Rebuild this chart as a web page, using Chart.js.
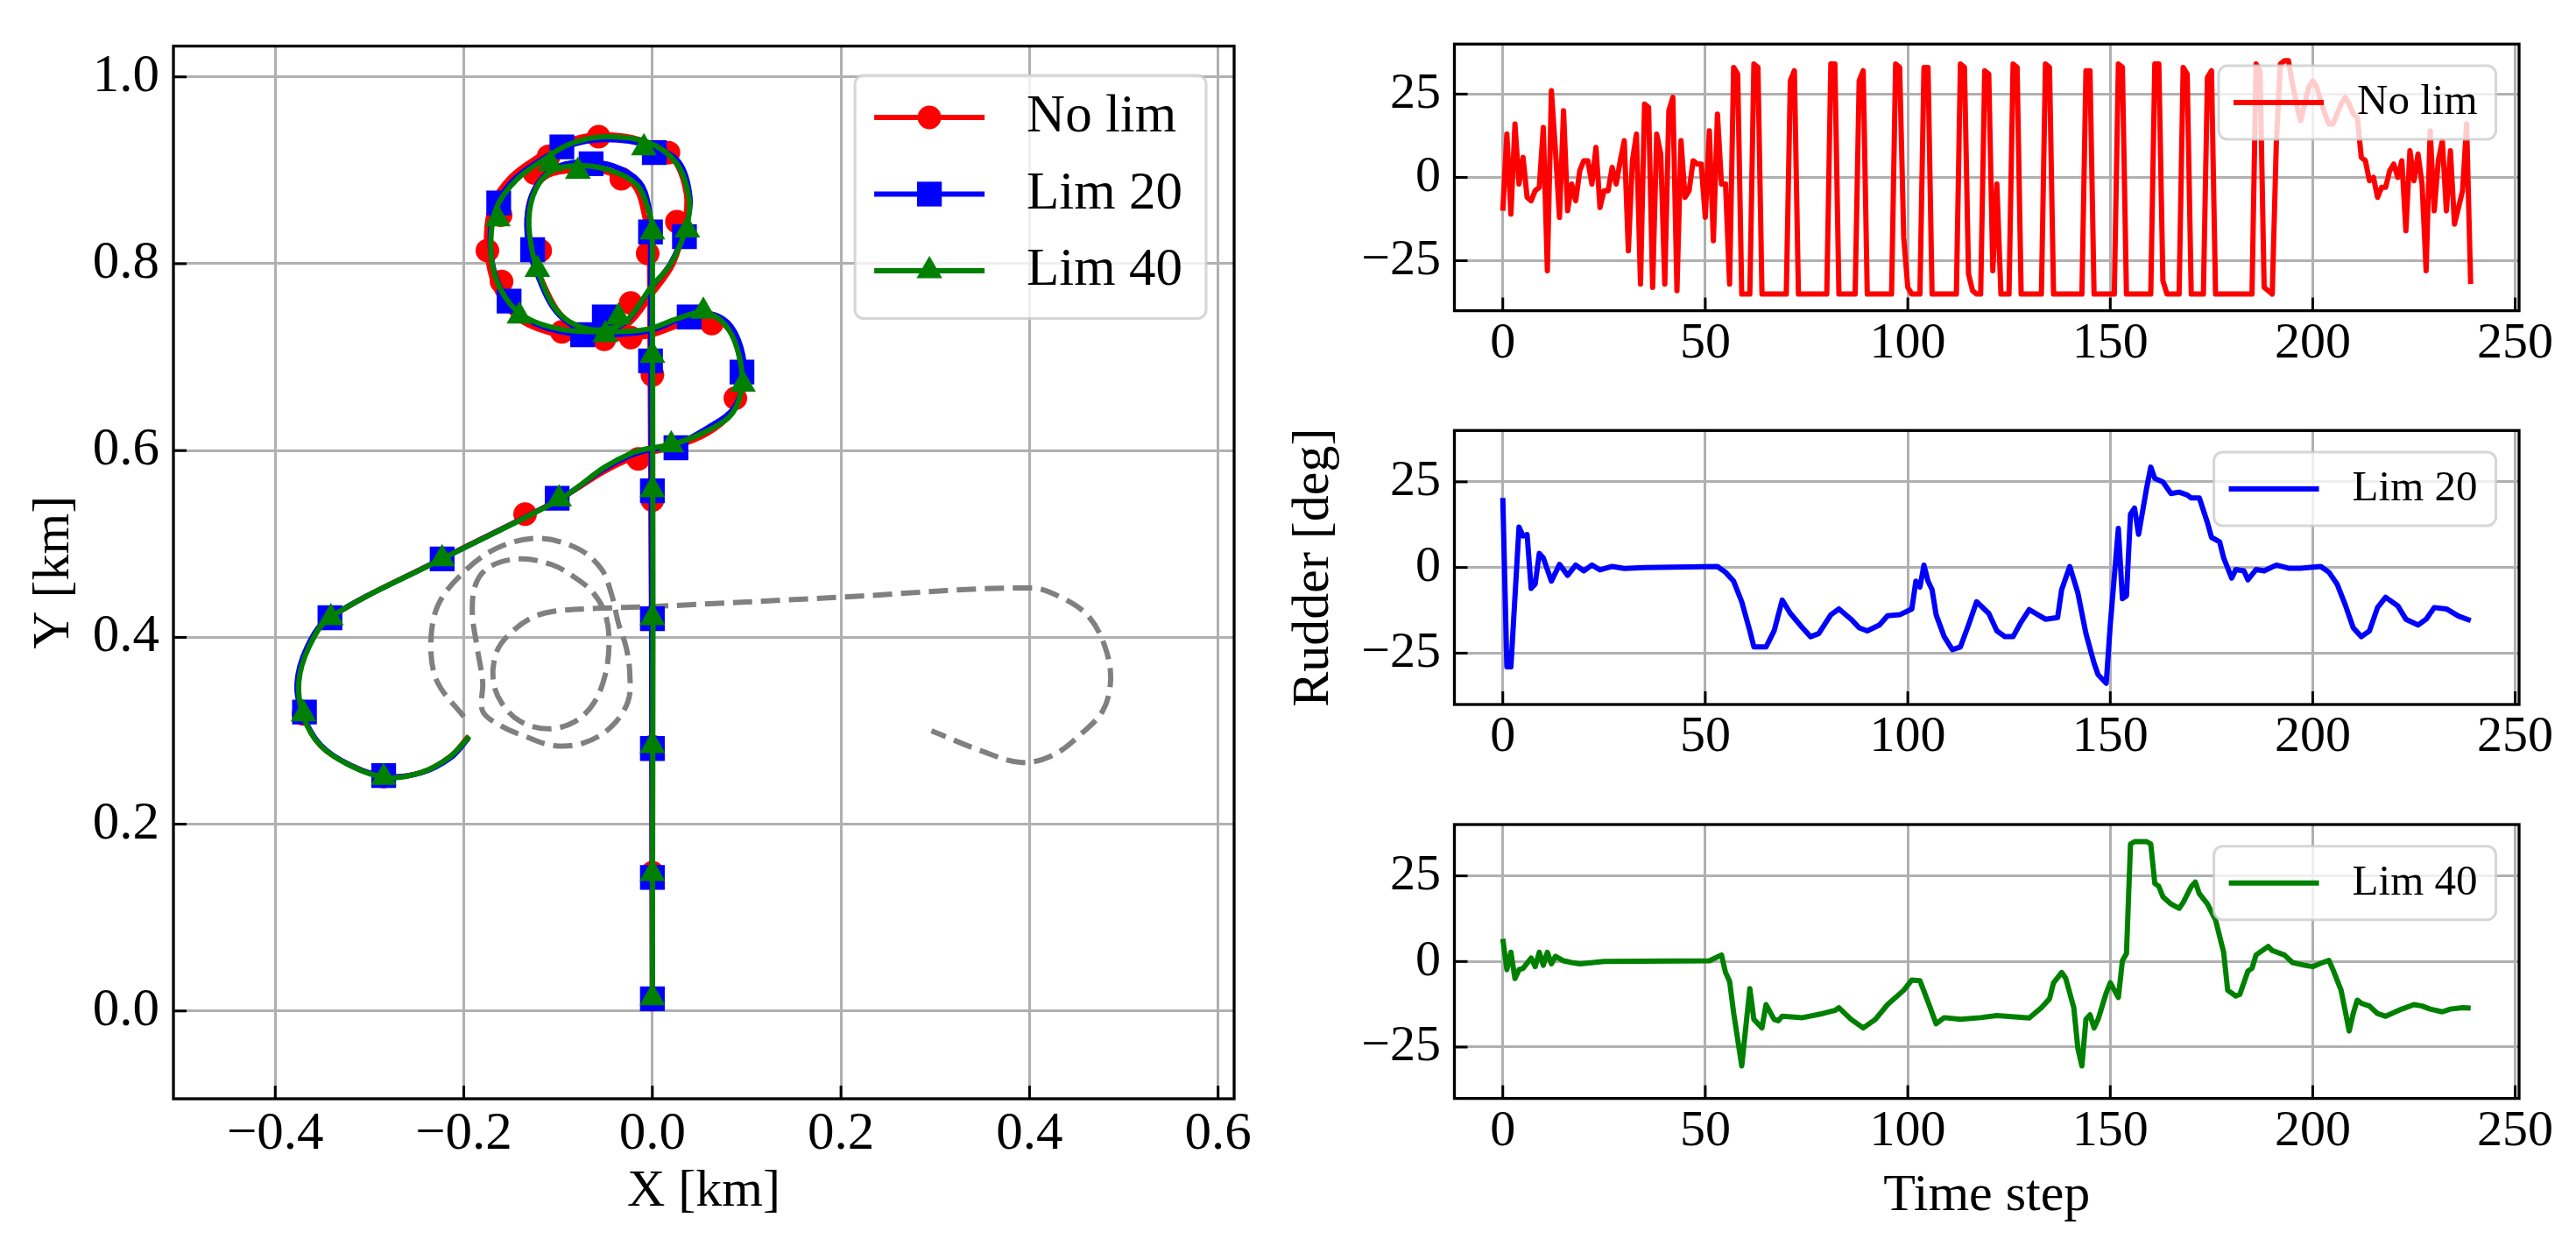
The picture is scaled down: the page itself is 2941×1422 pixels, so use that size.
<!DOCTYPE html>
<html>
<head>
<meta charset="utf-8">
<title>Trajectory and rudder</title>
<script src="https://cdn.jsdelivr.net/npm/chart.js@4.4.1/dist/chart.umd.min.js"></script>
<style>
    html, body { margin: 0; padding: 0; background: #ffffff; }
    #wrap { position: relative; width: 2941px; height: 1422px; overflow: hidden; }
    canvas { position: absolute; }
</style>
</head>
<body>
<div id="wrap">
    <canvas id="trackChart" width="1470" height="1422" style="left:0px;top:0px"></canvas>
    <canvas id="rudderNoLim" width="1471" height="440" style="left:1470px;top:0px"></canvas>
    <canvas id="rudderLim20" width="1471" height="450" style="left:1470px;top:440px"></canvas>
    <canvas id="rudderLim40" width="1471" height="532" style="left:1470px;top:890px"></canvas>
</div>
<script>
        // tick labels
        const kmTicksX = [-0.4, -0.2, 0.0, 0.2, 0.4, 0.6];
        const kmTicksY = [0.0, 0.2, 0.4, 0.6, 0.8, 1.0];
        const timeTicks = [0, 50, 100, 150, 200, 250];
        const rudderTicks = [-25, 0, 25];

        // trajectories (km)
        const noLimPathX = [0, -0.003, -0.008, -0.020, -0.048, -0.082, -0.110, -0.126, -0.133, -0.128, -0.117, -0.102, -0.085, -0.058, -0.026, 0.000, 0.022, 0.034, 0.036, 0.022, -0.010, -0.057, -0.094, -0.122, -0.150, -0.170, -0.176, -0.172, -0.160, -0.138, -0.100, -0.052, -0.008, 0.025, 0.055, 0.078, 0.091, 0.094, 0.084, 0.058, 0.024, -0.006, -0.024, -0.052, -0.100, -0.224, -0.342, -0.365, -0.376, -0.370, -0.352, -0.320, -0.283, -0.246, -0.215, -0.195];
        const noLimPathY = [0.012, 0.808, 0.850, 0.884, 0.898, 0.900, 0.895, 0.878, 0.848, 0.812, 0.782, 0.752, 0.735, 0.724, 0.735, 0.768, 0.800, 0.842, 0.875, 0.912, 0.932, 0.938, 0.930, 0.914, 0.893, 0.864, 0.830, 0.792, 0.762, 0.738, 0.724, 0.720, 0.722, 0.733, 0.742, 0.733, 0.706, 0.668, 0.640, 0.618, 0.604, 0.597, 0.591, 0.577, 0.547, 0.484, 0.421, 0.390, 0.352, 0.316, 0.284, 0.263, 0.251, 0.255, 0.272, 0.294];
        const noLimMarkX = [0, 0, 0, 0, 0, 0, -0.005, -0.033, -0.110, -0.125, -0.119, -0.023, 0.026, 0.017, -0.057, -0.161, -0.175, -0.160, -0.096, -0.051, -0.023, 0.063, 0.088, -0.015, -0.135, -0.223, -0.342, -0.370, -0.285];
        const noLimMarkY = [0.012, 0.148, 0.283, 0.420, 0.547, 0.681, 0.811, 0.891, 0.915, 0.897, 0.814, 0.758, 0.845, 0.919, 0.936, 0.852, 0.814, 0.781, 0.727, 0.719, 0.721, 0.736, 0.656, 0.591, 0.532, 0.484, 0.421, 0.318, 0.251];

        const lim20PathX = [0, -0.002, -0.004, -0.014, -0.042, -0.075, -0.105, -0.125, -0.133, -0.130, -0.120, -0.106, -0.088, -0.062, -0.030, -0.003, 0.019, 0.035, 0.040, 0.028, -0.002, -0.050, -0.090, -0.120, -0.148, -0.166, -0.172, -0.168, -0.154, -0.132, -0.096, -0.050, -0.004, 0.028, 0.056, 0.080, 0.094, 0.097, 0.086, 0.058, 0.024, -0.006, -0.025, -0.053, -0.100, -0.225, -0.344, -0.367, -0.377, -0.371, -0.352, -0.320, -0.283, -0.245, -0.214, -0.195];
        const lim20PathY = [0.013, 0.834, 0.862, 0.888, 0.905, 0.909, 0.902, 0.880, 0.848, 0.812, 0.783, 0.754, 0.736, 0.726, 0.736, 0.772, 0.800, 0.838, 0.870, 0.909, 0.926, 0.933, 0.926, 0.910, 0.889, 0.862, 0.830, 0.793, 0.762, 0.740, 0.727, 0.724, 0.728, 0.740, 0.747, 0.737, 0.710, 0.678, 0.645, 0.624, 0.606, 0.600, 0.594, 0.579, 0.547, 0.483, 0.420, 0.388, 0.350, 0.318, 0.285, 0.263, 0.251, 0.255, 0.271, 0.292];
        const lim20MarkX = [0, 0, 0, 0, 0, -0.002, -0.002, -0.065, -0.127, -0.051, 0.034, 0.002, -0.096, -0.163, -0.152, -0.074, 0.039, 0.095, 0.025, -0.101, -0.223, -0.342, -0.369, -0.285];
        const lim20MarkY = [0.013, 0.143, 0.281, 0.420, 0.557, 0.696, 0.834, 0.907, 0.815, 0.743, 0.829, 0.919, 0.925, 0.865, 0.760, 0.724, 0.743, 0.684, 0.603, 0.549, 0.484, 0.421, 0.320, 0.252];

        const lim40PathX = [0, 0, -0.005, -0.017, -0.045, -0.079, -0.107, -0.124, -0.131, -0.127, -0.118, -0.105, -0.088, -0.060, -0.029, -0.002, 0.020, 0.036, 0.039, 0.026, -0.005, -0.051, -0.088, -0.116, -0.144, -0.164, -0.171, -0.169, -0.156, -0.135, -0.098, -0.051, -0.005, 0.026, 0.054, 0.076, 0.090, 0.095, 0.085, 0.060, 0.026, -0.005, -0.023, -0.051, -0.098, -0.223, -0.342, -0.364, -0.375, -0.370, -0.352, -0.321, -0.283, -0.246, -0.215, -0.194];
        const lim40PathY = [0.014, 0.836, 0.860, 0.885, 0.900, 0.905, 0.899, 0.879, 0.848, 0.811, 0.783, 0.755, 0.738, 0.729, 0.738, 0.774, 0.801, 0.839, 0.869, 0.907, 0.930, 0.936, 0.928, 0.911, 0.890, 0.863, 0.832, 0.795, 0.764, 0.743, 0.730, 0.727, 0.730, 0.741, 0.748, 0.736, 0.709, 0.671, 0.640, 0.622, 0.608, 0.602, 0.597, 0.582, 0.548, 0.484, 0.421, 0.390, 0.352, 0.315, 0.284, 0.263, 0.250, 0.255, 0.272, 0.294];
        const lim40MarkX = [0, 0, 0, 0, 0, 0, 0, -0.079, -0.122, -0.036, 0.037, -0.009, -0.108, -0.164, -0.141, -0.050, 0.054, 0.096, 0.020, -0.099, -0.223, -0.341, -0.370, -0.285];
        const lim40MarkY = [0.014, 0.147, 0.284, 0.421, 0.558, 0.702, 0.834, 0.899, 0.794, 0.743, 0.836, 0.924, 0.907, 0.848, 0.744, 0.724, 0.749, 0.671, 0.606, 0.548, 0.484, 0.421, 0.318, 0.250];

        // grey dashed reference track
        const refPathX = [-0.200, -0.228, -0.235, -0.228, -0.203, -0.166, -0.122, -0.079, -0.054, -0.043, -0.036, -0.028, -0.024, -0.026, -0.045, -0.073, -0.104, -0.135, -0.160, -0.180, -0.180, -0.186, -0.191, -0.187, -0.172, -0.141, -0.107, -0.082, -0.063, -0.050, -0.046, -0.050, -0.062, -0.082, -0.110, -0.140, -0.160, -0.169, -0.165, -0.150, -0.128, -0.104, -0.060, 0.000, 0.200, 0.401, 0.435, 0.463, 0.480, 0.486, 0.478, 0.454, 0.425, 0.392, 0.350, 0.296];
        const refPathY = [0.315, 0.352, 0.390, 0.433, 0.467, 0.495, 0.506, 0.495, 0.473, 0.445, 0.415, 0.390, 0.362, 0.331, 0.303, 0.287, 0.284, 0.294, 0.305, 0.321, 0.352, 0.390, 0.427, 0.458, 0.476, 0.484, 0.478, 0.464, 0.448, 0.425, 0.395, 0.360, 0.330, 0.310, 0.302, 0.310, 0.330, 0.355, 0.385, 0.405, 0.421, 0.428, 0.431, 0.433, 0.443, 0.453, 0.442, 0.422, 0.390, 0.355, 0.322, 0.296, 0.274, 0.266, 0.278, 0.300];

        // rudder angle (deg) per time step
        const noLimRudder = [
            -10, 13, -11, 16, -2, 6, -6, -7, -4, -3,
            15, -28, 26, 8, -12, 20, -10, -2, -7, 2,
            5, 5, -2, 9, -9, -4, -4, 3, -2, 5,
            11, -22, 5, 13, -32, 22, 21, -33, 13, 7,
            -32, 20, 24, -34, 11, -6, -4, 5, 4, 4,
            -12, 14, -19, 19, -2, -2, -32, 33, 31, -35,
            -35, -35, 34, 33, -35, -35, -35, -35, -35, -35,
            -35, 29, 32, -35, -35, -35, -35, -35, -35, -35,
            -35, 34, 34, -35, -35, -35, -35, -35, 29, 32,
            -35, -35, -35, -35, -35, -35, -35, 34, 33, -18,
            -33, -35, -35, -35, 33, 33, -35, -35, -35, -35,
            -35, -35, -35, 34, 33, -29, -34, -35, -35, 32,
            31, -28, -2, -35, -35, -35, 34, 33, -35, -35,
            -35, -35, -35, -35, 34, 33, -35, -35, -35, -35,
            -35, -35, -35, -35, 32, 32, -35, -35, -35, -35,
            -35, -35, 34, 33, -35, -35, -35, -35, -35, -35,
            -35, 34, 34, -31, -35, -35, -35, -35, 33, 31,
            -35, -35, -35, -35, 30, 32, -35, -35, -35, -35,
            -35, -35, -35, -35, -35, -35, 34, 32, -33, -34,
            -35, 10, 34, 35, 35, 28, 22, 17, 22, 27,
            29, 27, 23, 19, 16, 16, 19, 22, 24, 22,
            19, 18, 6, 5, -1, 0, -6, -3, -3, 2,
            4, 0, 5, -16, 8, -1, 7, -2, -28, 14,
            -10, 5, 11, -10, 8, -14, -9, -4, 16, -32
        ];

        const lim20Steps = [0, 1, 2, 4, 5, 6, 7, 8, 9, 10, 12, 14, 16, 18, 20, 22, 24, 27, 30, 35, 53, 55, 57, 59, 61, 62, 65, 67, 69, 71, 74, 76, 78, 81, 83, 86, 88, 90, 93, 95, 98, 101, 102, 103, 104, 105, 106, 107, 109, 111, 113, 115, 117, 120, 122, 124, 126, 128, 130, 134, 137, 138, 140, 142, 144, 146, 147, 149, 150, 152, 153, 154, 155, 156, 157, 159, 160, 161, 163, 165, 167, 169, 170, 172, 174, 175, 177, 178, 180, 181, 183, 184, 186, 188, 191, 194, 197, 202, 204, 206, 208, 210, 212, 214, 216, 218, 221, 223, 226, 228, 230, 233, 236, 239];
        const lim20Rudder = [20.3, -29, -29, 11.8, 9.2, 9.6, -6.1, -4.8, 4.1, 2.8, -4, 0.9, -2.3, 0.7, -1, 0.7, -0.7, 0.3, -0.3, 0, 0.3, -1.4, -4, -10, -18.5, -23.2, -23.2, -18.5, -9.5, -13.4, -17.6, -20.2, -19.3, -13.8, -12.1, -15.1, -17.6, -18.5, -16.8, -14.1, -13.8, -12.1, -4, -5.7, 0.7, -4, -6.5, -13.8, -20.2, -24, -23.2, -16.8, -10, -13.4, -18.5, -20.2, -20.2, -15.9, -12.3, -15.1, -14.6, -6.5, 0.3, -7.4, -19.3, -27.9, -31.3, -33.8, -16.8, 11.4, -9.1, -8.3, 15.6, 17.3, 9.7, 23.3, 29.3, 26, 25, 21.6, 22, 21.2, 20.3, 20.3, 13.1, 8.8, 7.5, 2.8, -3.1, -0.6, -1, -3.6, -0.6, -1, 0.7, -0.2, -0.2, 0.3, -1.4, -4.8, -10.8, -17.6, -20.2, -18.5, -11.7, -8.7, -11.2, -15.1, -16.8, -15.1, -11.7, -12.1, -14.2, -15.5];

        const lim40Steps = [0, 1, 2, 3, 4, 5, 7, 8, 9, 10, 11, 12, 13, 15, 17, 19, 25, 51, 54, 55, 56, 57, 59, 61, 62, 64, 65, 67, 68, 69, 74, 79, 82, 83, 86, 89, 92, 95, 99, 101, 103, 105, 107, 109, 113, 118, 122, 130, 133, 135, 136, 138, 139, 141, 142, 143, 144, 145, 146, 147, 149, 150, 152, 153, 154, 155, 156, 159, 160, 161, 162, 163, 165, 167, 168, 170, 171, 172, 174, 176, 178, 179, 181, 182, 184, 185, 186, 189, 190, 193, 195, 198, 200, 202, 204, 205, 207, 208, 209, 210, 211, 212, 214, 216, 218, 222, 225, 227, 229, 232, 234, 237, 239];
        const lim40Rudder = [6.6, -2.4, 2.7, -5, -2.4, -2, 1, -1.5, 2.7, -1.1, 2.7, -0.7, 1.5, 0.2, -0.3, -0.7, 0, 0.2, 1.9, -3.2, -5.8, -15, -30.5, -7.9, -16.9, -19.4, -12.6, -16.9, -17.3, -16, -16.4, -15.2, -14.3, -13.5, -16.9, -19.4, -16.9, -12.6, -8.4, -5.4, -5.6, -11.8, -18.2, -16.4, -16.9, -16.4, -15.8, -16.5, -13.5, -10.9, -6.2, -3.2, -4.9, -13.5, -25.4, -30.5, -16.9, -15.6, -19.4, -16.9, -9.2, -6.2, -10.5, 0.2, 2.3, 34.3, 35, 35, 34.3, 22.8, 21.9, 18.9, 16.8, 15.5, 17.2, 21.9, 23.2, 19.8, 16.8, 12.1, 2.7, -8.4, -10.1, -9.6, -2.8, -2, 1.9, 4.4, 3.2, 1.9, -0.3, -1.1, -1.5, -0.5, 0.3, -2.4, -8.4, -14.3, -20.3, -15.2, -11.3, -12.2, -13, -15.2, -16, -13.9, -12.6, -13, -13.9, -14.7, -13.9, -13.5, -13.6];

        const FONT_FAMILY = "'Liberation Serif', 'Times New Roman', serif";
        const MINUS = '\u2212';

        function fmtTick(v, digits) {
            if (Math.abs(v) < 1e-9) v = 0;
            const s = Math.abs(v).toFixed(digits);
            return v < 0 ? MINUS + s : s;
        }

        function pairUp(xs, ys) {
            return xs.map((x, i) => ({ x: x, y: ys[i] }));
        }

        function drawMarker(ctx, style, x, y, r) {
            ctx.beginPath();
            if (style === 'circle') {
                ctx.arc(x, y, r, 0, Math.PI * 2);
            } else if (style === 'rect') {
                const s = r * Math.SQRT1_2;
                ctx.rect(x - s, y - s, 2 * s, 2 * s);
            } else if (style === 'triangle') {
                ctx.moveTo(x, y - r);
                ctx.lineTo(x + r * Math.sin(2 * Math.PI / 3), y - r * Math.cos(2 * Math.PI / 3));
                ctx.lineTo(x + r * Math.sin(4 * Math.PI / 3), y - r * Math.cos(4 * Math.PI / 3));
                ctx.closePath();
            }
            ctx.fill();
        }

        // black frame and inward tick marks, matplotlib style
        const framePlugin = {
            id: 'frame',
            afterDatasetsDraw(chart) {
                const ctx = chart.ctx;
                const a = chart.chartArea;
                ctx.save();
                ctx.strokeStyle = '#000';
                ctx.lineWidth = 3;
                chart.scales.x.ticks.forEach(t => {
                    const px = chart.scales.x.getPixelForValue(t.value);
                    ctx.beginPath();
                    ctx.moveTo(px, a.bottom);
                    ctx.lineTo(px, a.bottom - 15);
                    ctx.stroke();
                });
                chart.scales.y.ticks.forEach(t => {
                    const py = chart.scales.y.getPixelForValue(t.value);
                    ctx.beginPath();
                    ctx.moveTo(a.left, py);
                    ctx.lineTo(a.left + 15, py);
                    ctx.stroke();
                });
                ctx.lineWidth = 3.3;
                ctx.strokeRect(a.left, a.top, a.right - a.left, a.bottom - a.top);
                ctx.restore();
            }
        };

        // legend box inside the plot area, upper right
        const boxLegendPlugin = {
            id: 'boxLegend',
            afterDraw(chart, args, opts) {
                if (!opts || !opts.entries) return;
                const ctx = chart.ctx;
                const a = chart.chartArea;
                ctx.save();
                ctx.font = opts.fontSize + 'px ' + FONT_FAMILY;
                const textW = Math.max(...opts.entries.map(e => ctx.measureText(e.label).width));
                const w = opts.textStart + textW + opts.padRight;
                const x0 = a.right - opts.right - w;
                const y0 = a.top + opts.top;
                ctx.beginPath();
                ctx.roundRect(x0, y0, w, opts.height, 10);
                ctx.fillStyle = 'rgba(255,255,255,0.8)';
                ctx.fill();
                ctx.strokeStyle = 'rgba(204,204,204,0.8)';
                ctx.lineWidth = 3;
                ctx.stroke();
                opts.entries.forEach((e, i) => {
                    const cy = y0 + opts.firstRow + i * opts.rowGap;
                    ctx.strokeStyle = e.color;
                    ctx.lineWidth = 6;
                    ctx.beginPath();
                    ctx.moveTo(x0 + opts.lineStart, cy);
                    ctx.lineTo(x0 + opts.lineEnd, cy);
                    ctx.stroke();
                    if (e.marker) {
                        ctx.fillStyle = e.color;
                        drawMarker(ctx, e.marker, x0 + (opts.lineStart + opts.lineEnd) / 2, cy, e.radius);
                    }
                    ctx.fillStyle = '#000';
                    ctx.textAlign = 'left';
                    ctx.textBaseline = 'middle';
                    ctx.fillText(e.label, x0 + opts.textStart, cy);
                });
                ctx.restore();
            }
        };

        function axis(o) {
            return {
                type: 'linear',
                min: o.min,
                max: o.max,
                afterBuildTicks: scale => { scale.ticks = o.ticks.map(v => ({ value: v })); },
                afterFit: scale => {
                    if (o.width != null) scale.width = o.width;
                    if (o.height != null) scale.height = o.height;
                },
                ticks: {
                    callback: v => fmtTick(v, o.digits),
                    font: { family: FONT_FAMILY, size: o.tickSize },
                    color: '#000',
                    padding: o.tickPad,
                    maxRotation: 0,
                    autoSkip: false
                },
                grid: { color: '#b0b0b0', lineWidth: 3, drawTicks: false },
                border: { display: false },
                title: o.title ? {
                    display: true,
                    text: o.title,
                    color: '#000',
                    font: { family: FONT_FAMILY, size: 60, lineHeight: 1 },
                    padding: o.titlePad
                } : { display: false }
            };
        }

        const baseOptions = {
            responsive: false,
            animation: false,
            events: [],
            plugins: { legend: { display: false }, tooltip: { enabled: false } }
        };

        // trajectory plot
        new Chart(document.getElementById('trackChart'), {
            type: 'scatter',
            data: {
                datasets: [
                    { data: pairUp(lim40MarkX, lim40MarkY), pointStyle: 'triangle', pointRadius: 17, backgroundColor: '#008000', borderWidth: 0 },
                    { data: pairUp(lim40PathX, lim40PathY), showLine: true, pointRadius: 0, borderColor: '#008000', borderWidth: 6, tension: 0.35, borderJoinStyle: 'round' },
                    { data: pairUp(lim20MarkX, lim20MarkY), pointStyle: 'rect', pointRadius: 20, backgroundColor: '#0000ff', borderWidth: 0 },
                    { data: pairUp(lim20PathX, lim20PathY), showLine: true, pointRadius: 0, borderColor: '#0000ff', borderWidth: 6, tension: 0.35, borderJoinStyle: 'round' },
                    { data: pairUp(noLimMarkX, noLimMarkY), pointStyle: 'circle', pointRadius: 13.5, backgroundColor: '#ff0000', borderWidth: 0 },
                    { data: pairUp(noLimPathX, noLimPathY), showLine: true, pointRadius: 0, borderColor: '#ff0000', borderWidth: 6, tension: 0.35, borderJoinStyle: 'round' },
                    { data: pairUp(refPathX, refPathY), showLine: true, pointRadius: 0, borderColor: '#808080', borderWidth: 6, borderDash: [22, 10], tension: 0.35 }
                ]
            },
            options: Object.assign({}, baseOptions, {
                layout: { padding: { top: 41, right: 61, bottom: 0, left: 0 } },
                scales: {
                    x: axis({ min: -0.508, max: 0.617, ticks: kmTicksX, digits: 1, tickSize: 61, tickPad: 4, height: 168, title: 'X [km]', titlePad: { top: 0, bottom: 32 } }),
                    y: axis({ min: -0.094, max: 1.033, ticks: kmTicksY, digits: 1, tickSize: 61, tickPad: 16, width: 198, title: 'Y [km]', titlePad: { top: 32, bottom: 0 } })
                },
                plugins: {
                    legend: { display: false },
                    tooltip: { enabled: false },
                    boxLegend: {
                        entries: [
                            { label: 'No lim', color: '#ff0000', marker: 'circle', radius: 13.5 },
                            { label: 'Lim 20', color: '#0000ff', marker: 'rect', radius: 20 },
                            { label: 'Lim 40', color: '#008000', marker: 'triangle', radius: 17 }
                        ],
                        right: 32, top: 33.4, fontSize: 61, height: 277.5,
                        firstRow: 48, rowGap: 87.5, lineStart: 22, lineEnd: 148, textStart: 196, padRight: 27
                    }
                }
            }),
            plugins: [framePlugin, boxLegendPlugin]
        });

        // rudder panels
        function rudderChart(canvasId, points, color, label, layout) {
            new Chart(document.getElementById(canvasId), {
                type: 'scatter',
                data: {
                    datasets: [{ data: points, showLine: true, pointRadius: 0, borderColor: color, borderWidth: 6, borderJoinStyle: 'round' }]
                },
                options: Object.assign({}, baseOptions, {
                    layout: { padding: { top: layout.top, right: 65, bottom: 0, left: 0 } },
                    scales: {
                        x: axis({ min: -11.95, max: 250.95, ticks: timeTicks, digits: 0, tickSize: 58, tickPad: 3, height: layout.xHeight, title: layout.xTitle, titlePad: { top: 0, bottom: 27 } }),
                        y: axis({ min: -40, max: 40, ticks: rudderTicks, digits: 0, tickSize: 58, tickPad: 15.5, width: 190.5, title: layout.yTitle, titlePad: { top: 0, bottom: 0 } })
                    },
                    plugins: {
                        legend: { display: false },
                        tooltip: { enabled: false },
                        boxLegend: {
                            entries: [{ label: label, color: color }],
                            right: 26.5, top: 24.7, fontSize: 49, height: 84,
                            firstRow: 42, rowGap: 0, lineStart: 17, lineEnd: 120, textStart: 158, padRight: 21
                        }
                    }
                }),
                plugins: [framePlugin, boxLegendPlugin]
            });
        }

        rudderChart('rudderNoLim', noLimRudder.map((v, i) => ({ x: i, y: v })), '#ff0000', 'No lim',
            { top: 42, xHeight: 85.4 });
        rudderChart('rudderLim20', pairUp(lim20Steps, lim20Rudder), '#0000ff', 'Lim 20',
            { top: 51.3, xHeight: 86, yTitle: 'Rudder [deg]' });
        rudderChart('rudderLim40', pairUp(lim40Steps, lim40Rudder), '#008000', 'Lim 40',
            { top: 51, xHeight: 168.4, xTitle: 'Time step' });
</script>
</body>
</html>
